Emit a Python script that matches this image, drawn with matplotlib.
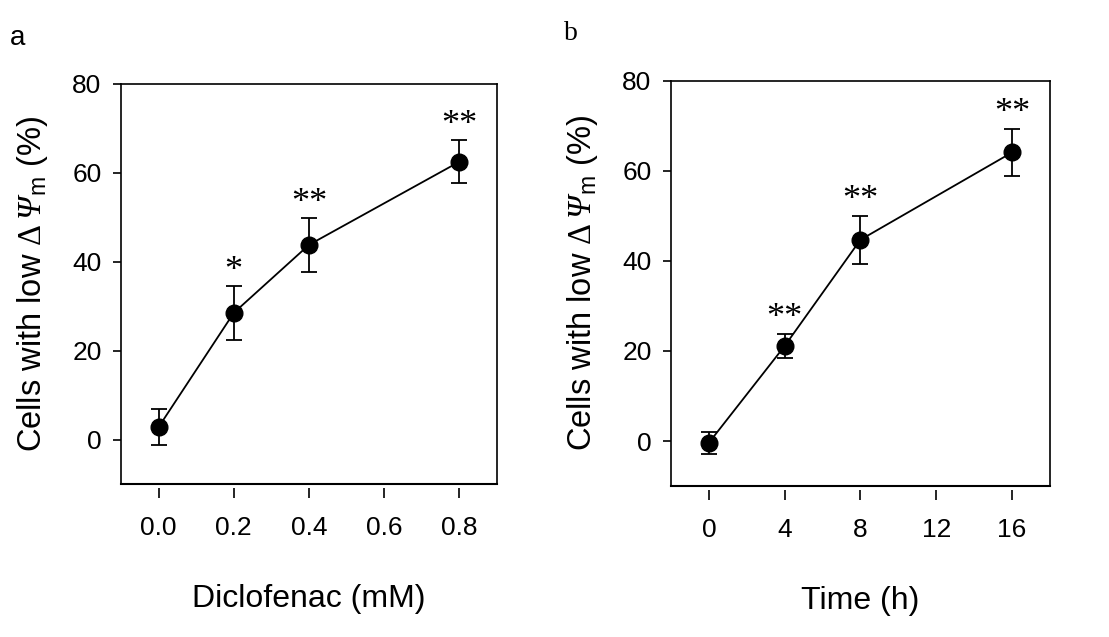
import matplotlib
matplotlib.use("Agg")
import matplotlib.pyplot as plt

# panel a: dose response
dose = [0.0, 0.2, 0.4, 0.8]
dose_mean = [2.8, 28.5, 43.8, 62.5]
dose_err = [4.1, 6.0, 6.0, 4.8]
dose_stars = ["", "*", "**", "**"]
dose_ticks = [0.0, 0.2, 0.4, 0.6, 0.8]
dose_ticklabels = ["0.0", "0.2", "0.4", "0.6", "0.8"]

# panel b: time course
time_h = [0, 4, 8, 16]
time_mean = [-0.4, 21.1, 44.7, 64.1]
time_err = [2.4, 2.7, 5.3, 5.3]
time_stars = ["", "**", "**", "**"]
time_ticks = [0, 4, 8, 12, 16]

y_ticks = [0, 20, 40, 60, 80]

plt.rcParams["font.family"] = ["Liberation Sans", "DejaVu Sans"]
# rm -> italic serif (for Psi), sf -> sans subscript, tt -> upright serif delta
plt.rcParams["mathtext.fontset"] = "custom"
plt.rcParams["mathtext.rm"] = "Liberation Serif:italic"
plt.rcParams["mathtext.sf"] = "Liberation Sans"
plt.rcParams["mathtext.tt"] = "Liberation Serif"

ylabel = "Cells with low $\\mathtt{\\Delta}\\,\\Psi_\\mathsf{m}$ (%)"

fig = plt.figure(figsize=(11.09, 6.37), dpi=100)
ax_a = fig.add_axes([0.1091, 0.2402, 0.339, 0.628])
ax_b = fig.add_axes([0.605, 0.237, 0.3417, 0.636])


def draw(ax, x, y, err, stars, xlim, xticks, xticklabels, xlabel):
    ax.errorbar(x, y, yerr=err, color="black", lw=1.3, marker="o", ms=12,
                capsize=5.5, capthick=1.3, elinewidth=1.3)
    for xi, yi, ei, s in zip(x, y, err, stars):
        if s:
            ax.annotate(s, (xi, yi + ei), xytext=(0, -1),
                        textcoords="offset points", ha="center", va="bottom",
                        fontsize=26, family="Liberation Serif")
    ax.set_xlim(*xlim)
    ax.set_ylim(-10, 80)
    ax.set_xticks(xticks)
    ax.set_xticklabels(xticklabels)
    ax.set_yticks(y_ticks)
    for sp in ax.spines.values():
        sp.set_linewidth(1.2)
    # ticks below the frame sit slightly apart from it
    ax.spines["bottom"].set_position(("outward", 3))
    ax.spines["bottom"].set_color("none")
    ax.axhline(-10, color="black", lw=1.5, clip_on=False)
    ax.tick_params(axis="x", direction="out", length=7, width=1.2, pad=13,
                   labelsize=19, color="black")
    ax.tick_params(axis="y", direction="out", length=6, width=1.2, pad=8,
                   labelsize=19)
    ax.set_xlabel(xlabel, fontsize=23, labelpad=32)
    ax.set_ylabel(ylabel, fontsize=23.5, labelpad=16)


draw(ax_a, dose, dose_mean, dose_err, dose_stars, (-0.1, 0.9),
     dose_ticks, dose_ticklabels, "Diclofenac (mM)")
draw(ax_b, time_h, time_mean, time_err, time_stars, (-2, 18),
     time_ticks, [str(t) for t in time_ticks], "Time (h)")

fig.text(0.009, 0.94, "a", fontsize=20, family="Liberation Sans", va="center")
fig.text(0.509, 0.948, "b", fontsize=20, family="Liberation Serif", va="center")

fig.savefig("out.png", dpi=100)
